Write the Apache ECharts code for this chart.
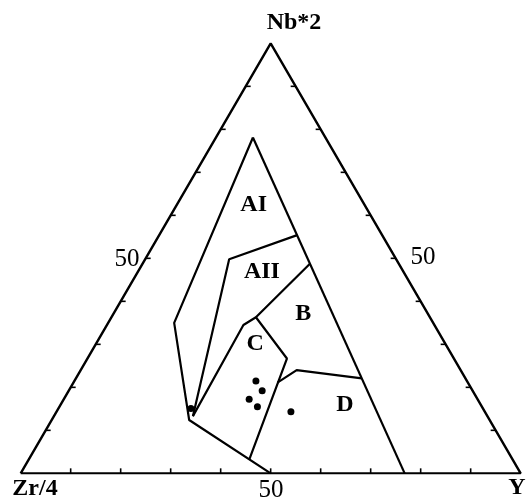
<!DOCTYPE html>
<html>
<head>
<meta charset="utf-8">
<script src="https://cdn.jsdelivr.net/npm/echarts@6/dist/echarts.min.js"></script>
<style>
  html, body { margin: 0; padding: 0; background: #fff; }
  #main { width: 526px; height: 499px; }
</style>
</head>
<body>
<div id="main"></div>
<script>
// points are [Zr/4, Nb*2, Y] in percent
var frame = [[100, 0, 0], [0, 0, 100], [0, 100, 0], [100, 0, 0]];
var outerLeft = [[14.5, 78.1, 7.4], [51.8, 35.0, 13.2], [60.1, 12.4, 27.5], [50, 0, 50]];
var outerRight = [[14.5, 78.1, 7.4], [23.2, 0, 76.8]];
var lineAI_AII = [[17.0, 55.4, 27.6], [33.4, 49.8, 16.8], [58.9, 13.3, 27.8]];
var lineAII_B = [[17.7, 48.8, 33.5], [34.8, 36.3, 28.9], [38.2, 34.5, 27.3], [58.9, 13.3, 27.8]];
var lineC_right = [[34.8, 36.3, 28.9], [33.4, 26.7, 39.9], [52.6, 3.3, 44.1]];
var lineD_top = [[38.1, 21.1, 40.8], [32.8, 24.0, 43.2], [20.7, 22.1, 57.2]];

var samples = [
  [42.2, 21.5, 36.3], [42.1, 19.2, 38.7], [45.7, 17.2, 37.1],
  [44.9, 15.5, 39.6], [38.8, 14.3, 46.9], [58.4, 15.1, 26.5]
];

var fieldNames = ['AI', 'AII', 'B', 'C', 'D'];
var fieldPos = [[22.2, 62.4, 15.4], [28.3, 46.9, 24.8], [24.9, 37.2, 37.9], [38.0, 30.2, 31.8], [27.2, 15.9, 56.9]];

var tickValues = [10, 20, 30, 40, 50, 60, 70, 80, 90];

// ternary -> x,y (x 0..100 along the base, y = height)
function tern(p) {
  var s = p[0] + p[1] + p[2];
  var nb = p[1] / s * 100, y = p[2] / s * 100;
  return [y + nb / 2, nb * 0.866];
}

var chart = echarts.init(document.getElementById('main'));

function lineSeries(pts, w) {
  return {
    type: 'line',
    data: pts.map(tern),
    symbol: 'none',
    silent: true,
    lineStyle: { color: '#000', width: w || 2.2 },
    z: 2
  };
}

// ticks on the three sides, pointing inward
var tickData = [];
tickValues.forEach(function (v) {
  tickData.push([0, v]);
  tickData.push([1, v]);
  tickData.push([2, v]);
});

var series = [
  lineSeries(frame, 2.4),
  lineSeries(outerLeft),
  lineSeries(outerRight),
  lineSeries(lineAI_AII),
  lineSeries(lineAII_B),
  lineSeries(lineC_right),
  lineSeries(lineD_top),
  {
    type: 'custom',
    data: tickData,
    silent: true,
    renderItem: function (params, api) {
      var side = api.value(0), v = api.value(1);
      var p, dx = 0, dy = 0;
      if (side === 0) { p = [100 - v, 0, v]; dy = -5; }
      else if (side === 1) { p = [100 - v, v, 0]; dx = 5; }
      else { p = [0, v, 100 - v]; dx = -5; }
      var c = api.coord(tern(p));
      return {
        type: 'line',
        shape: { x1: c[0], y1: c[1], x2: c[0] + dx, y2: c[1] + dy },
        style: { stroke: '#000', lineWidth: 1.6 }
      };
    },
    z: 3
  },
  {
    type: 'scatter',
    data: samples.map(tern),
    symbol: 'circle',
    symbolSize: 7,
    itemStyle: { color: '#000', opacity: 1 },
    z: 4
  },
  {
    type: 'custom',
    data: fieldPos.map(function (p, i) { return tern(p).concat([i]); }),
    silent: true,
    renderItem: function (params, api) {
      var c = api.coord([api.value(0), api.value(1)]);
      return {
        type: 'text',
        x: c[0], y: c[1],
        style: {
          text: fieldNames[api.value(2)],
          font: 'bold 24px "Liberation Serif", serif',
          fill: '#000',
          textAlign: 'center',
          textVerticalAlign: 'middle'
        }
      };
    },
    z: 5
  }
];

function label(txt, x, y, bold, size) {
  return {
    type: 'text',
    x: x, y: y,
    style: {
      text: txt,
      font: (bold ? 'bold ' : '') + (size || 24) + 'px "Liberation Serif", serif',
      fill: '#000',
      textAlign: 'center',
      textVerticalAlign: 'middle'
    }
  };
}

chart.setOption({
  animation: false,
  backgroundColor: '#fff',
  grid: { left: 20.67, right: 5.33, top: 43.33, bottom: 25.67 },
  xAxis: { type: 'value', min: 0, max: 100, show: false },
  yAxis: { type: 'value', min: 0, max: 86.6, show: false },
  series: series,
  graphic: [
    label('Nb*2', 294, 23, true),
    label('Zr/4', 35, 489, true),
    label('Y', 517, 488, true),
    label('50', 271, 490, false, 25),
    label('50', 127, 259, false, 25),
    label('50', 423, 257, false, 25)
  ]
});
</script>
</body>
</html>
